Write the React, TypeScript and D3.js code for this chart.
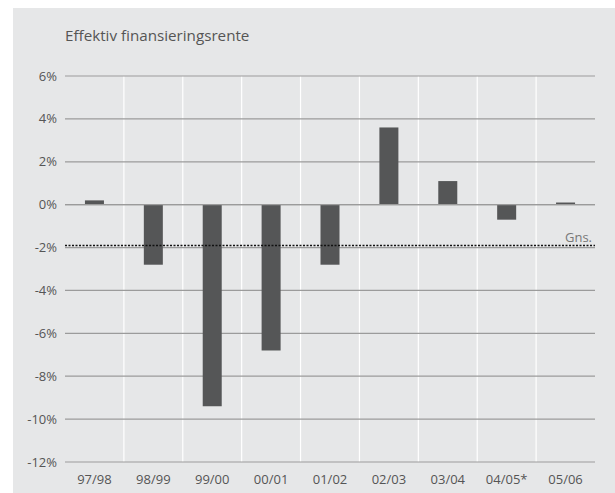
import React from "react";
import * as d3 from "d3";

const categories = ["97/98", "98/99", "99/00", "00/01", "01/02", "02/03", "03/04", "04/05*", "05/06"];
const values = [0.2, -2.8, -9.4, -6.8, -2.8, 3.6, 1.1, -0.7, 0.1];
const yTicks = [6, 4, 2, 0, -2, -4, -6, -8, -10, -12];
const average = -1.9;
const title = "Effektiv finansieringsrente";
const avgLabel = "Gns.";

export default function App() {
  const W = 615, H = 493;
  const left = 65, right = 595, top = 76, bottom = 462;
  const x = d3.scaleBand<string>().domain(categories).range([left, right]);
  const y = d3.scaleLinear().domain([-12, 6]).range([bottom, top]);
  const barW = 19;
  const font = "'Open Sans', 'Liberation Sans', sans-serif";
  const txt = "#555";
  return (
    <svg width={W} height={H} style={{ position: "absolute", left: 0, top: 0 }} fontFamily={font}>
      <rect x={0} y={0} width={W} height={H} fill="#fff" />
      <rect x={13} y={8} width={W - 13} height={H - 8} fill="#e6e7e8" />
      <text x={65} y={41} fontSize={15.2} fill={txt}>{title}</text>
      {categories.slice(1).map((c) => (
        <line key={c} x1={x(c)!} x2={x(c)!} y1={y(6)} y2={y(-12)} stroke="#fff" strokeWidth={1.2} />
      ))}
      {yTicks.map((t) => (
        <g key={t}>
          <line x1={left} x2={right} y1={y(t)} y2={y(t)} stroke="#9b9b9b" strokeWidth={1.2} />
          <text x={57} y={y(t) + 4.5} fontSize={13} textAnchor="end" fill={txt}>{t + "%"}</text>
        </g>
      ))}
      {categories.map((c, i) => {
        const v = values[i];
        const cx = x(c)! + x.bandwidth() / 2;
        return (
          <rect key={c} x={cx - barW / 2} y={y(Math.max(0, v))} width={barW}
            height={Math.abs(y(v) - y(0))} fill="#555657" />
        );
      })}
      <line x1={left} x2={right} y1={y(0)} y2={y(0)} stroke="#9b9b9b" strokeWidth={1.2} />
      <line x1={left} x2={right} y1={y(average)} y2={y(average)} stroke="#111" strokeWidth={1.5} strokeDasharray="2,1.5" />
      <text x={592} y={y(average) - 3} fontSize={13} textAnchor="end" fill="#777">{avgLabel}</text>
      {categories.map((c) => (
        <text key={c} x={x(c)! + x.bandwidth() / 2} y={484} fontSize={13} textAnchor="middle" fill={txt}>{c}</text>
      ))}
    </svg>
  );
}
